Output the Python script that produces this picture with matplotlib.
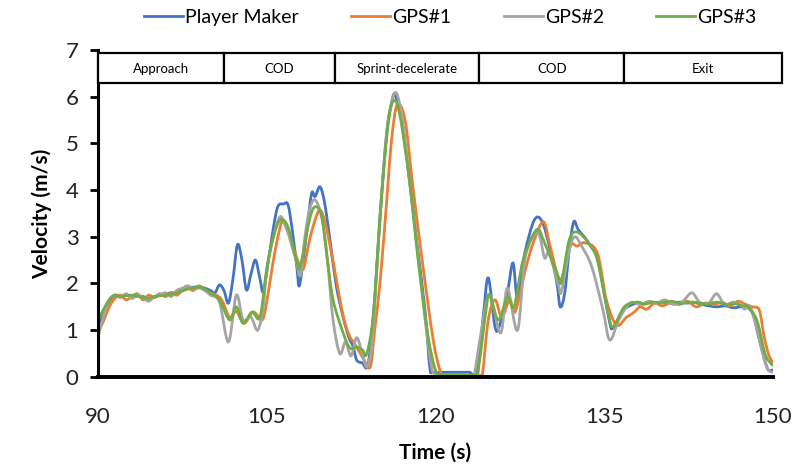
import matplotlib
matplotlib.use("Agg")
import matplotlib.pyplot as plt
import numpy as np
from matplotlib.patches import Rectangle, PathPatch
from matplotlib.path import Path
from matplotlib.lines import Line2D

plt.rcParams["font.family"] = ["Lato", "DejaVu Sans"]

# Player Maker (blue)
t_pm = [90, 90.5, 91, 91.5, 92, 92.5, 93, 93.5, 94, 94.5, 95, 95.5, 96, 96.5, 97, 97.5, 98, 98.5, 99, 99.5,
        100, 100.4, 100.8, 101.2, 101.6, 102.0, 102.4, 102.8, 103.2, 103.6, 104.0, 104.4, 104.7, 105.1, 105.6,
        106.0, 106.5, 106.9, 107.3, 107.7, 107.9, 108.3, 108.6, 109.0, 109.3, 109.7, 110.0, 110.3, 110.7, 111.2,
        111.8, 112.3, 112.7, 113.0, 113.5, 114.0, 114.5, 115.1, 115.7, 116.1, 116.4, 117.0, 117.7, 118.4, 119.1,
        119.5, 119.8, 121, 122, 123, 123.7, 124.25, 124.7, 125.3, 125.7, 126.4, 126.9, 127.3, 127.95, 128.8,
        129.5, 130.2, 130.8, 131.1, 131.5, 131.9, 132.3, 132.7, 133.3, 133.8, 134.4, 134.9, 135.5, 135.8, 136.7,
        137.9, 138.5, 139, 139.6, 140.3, 141, 141.7, 142.4, 143, 143.7, 144.4, 145, 145.8, 146.5, 147.2, 147.8,
        148.3, 148.8, 149.3, 149.6, 150]
v_pm = [1.1, 1.35, 1.62, 1.75, 1.72, 1.76, 1.7, 1.73, 1.72, 1.68, 1.7, 1.76, 1.78, 1.8, 1.8, 1.86, 1.9, 1.92, 1.93, 1.9,
        1.85, 1.8, 1.97, 1.85, 1.58, 2.1, 2.83, 2.5, 1.86, 2.2, 2.5, 2.1, 1.82, 2.4, 3.2,
        3.65, 3.7, 3.68, 3.1, 2.3, 1.95, 2.6, 3.2, 3.93, 3.86, 4.07, 3.9, 3.5, 2.8, 1.93,
        1.28, 0.85, 0.64, 0.36, 0.3, 0.26, 1.37, 3.5, 5.29, 5.85, 6.04, 5.5, 4.2, 2.78, 1.37,
        0.21, 0.1, 0.1, 0.1, 0.1, 0.1, 1.28, 2.12, 1.07, 1.1, 1.8, 2.44, 1.71, 2.65, 3.36,
        3.32, 2.72, 2.01, 1.5, 1.8, 2.72, 3.32, 3.15, 2.98, 2.8, 2.55, 1.93, 1.16, 1.05, 1.43,
        1.58, 1.56, 1.6, 1.58, 1.62, 1.57, 1.6, 1.58, 1.6, 1.55, 1.52, 1.5, 1.52, 1.48, 1.5, 1.48,
        1.3, 0.8, 0.35, 0.15, 0.15]

# GPS#1 (orange)
t_g1 = [90, 90.5, 91, 91.5, 92, 92.5, 93, 93.5, 94, 94.5, 95, 95.5, 96, 96.5, 97, 97.5, 98, 98.5, 99, 99.5,
        100, 100.5, 101, 101.7, 102.3, 103.0, 103.8, 104.6, 105.0, 105.5, 106.0, 106.4, 107.0, 107.6, 108.2,
        108.7, 109.1, 109.7, 110.2, 110.8, 111.8, 112.4, 112.8, 113.5, 114.2, 114.6, 115.1, 115.7, 116.1, 116.6,
        117.3, 118.0, 118.9, 119.8, 120.4, 120.8, 122, 123, 124.0, 124.2, 124.7, 125.3, 125.9, 126.6, 127.1,
        128.0, 128.7, 129.6, 130.2, 131.1, 132.0, 132.6, 133.3, 134.4, 135.2, 136.1, 137.0, 137.6, 138.2, 138.8,
        139.5, 140.2, 141, 141.7, 142.4, 143.2, 144, 144.8, 145.5, 146.2, 146.9, 147.6, 148.2, 148.8, 149.2,
        149.6, 150]
v_g1 = [0.95, 1.2, 1.5, 1.68, 1.75, 1.65, 1.72, 1.78, 1.65, 1.75, 1.7, 1.78, 1.72, 1.8, 1.75, 1.85, 1.9, 1.85, 1.95, 1.85,
        1.8, 1.75, 1.65, 1.28, 1.4, 1.15, 1.39, 1.22, 1.6, 2.36, 3.0, 3.32, 3.08, 2.6, 2.29,
        2.8, 3.2, 3.57, 3.3, 2.6, 1.3, 0.86, 0.72, 0.43, 0.21, 1.0, 2.08, 3.86, 5.07, 5.82,
        5.5, 4.07, 2.36, 0.8, 0.15, 0.03, 0.03, 0.03, 0.03, 0.08, 1.22, 1.65, 1.28, 1.65, 1.4,
        2.29, 2.87, 3.32, 2.8, 2.08, 2.8, 2.8, 2.87, 2.65, 1.65, 1.11, 1.28, 1.37, 1.5, 1.45,
        1.58, 1.52, 1.6, 1.55, 1.62, 1.5, 1.58, 1.55, 1.6, 1.52, 1.62, 1.55, 1.5, 1.43, 0.9,
        0.5, 0.3]

# GPS#2 (grey)
t_g2 = [90, 90.5, 91, 91.5, 92, 92.5, 93, 93.5, 94, 94.5, 95, 95.5, 96, 96.5, 97, 97.5, 98, 98.5, 99, 99.5,
        100, 100.8, 101.6, 102.3, 102.9, 103.6, 104.2, 104.7, 105.0, 105.6, 106.2, 106.7, 107.0, 107.6, 108.0,
        108.4, 108.8, 109.3, 109.9, 110.4, 110.9, 111.5, 112.0, 112.5, 113.0, 113.5, 113.9, 114.3, 114.6, 115.1,
        115.7, 116.4, 117.0, 117.7, 118.4, 119.1, 119.6, 120.0, 121.5, 123.3, 123.5, 124.1, 124.8, 125.8, 126.4,
        127.3, 128.0, 129.1, 129.7, 130.1, 130.9, 131.2, 131.9, 132.4, 133.0, 133.9, 134.9, 135.5, 136.3, 137.0,
        137.5, 138.2, 139, 139.7, 140.4, 141.2, 142, 142.8, 143.5, 144.3, 145, 145.7, 146.5, 147.2, 147.5, 148.0,
        148.6, 149.2, 149.6, 150]
v_g2 = [0.85, 1.3, 1.65, 1.75, 1.7, 1.78, 1.68, 1.75, 1.7, 1.62, 1.72, 1.75, 1.8, 1.72, 1.85, 1.9, 1.95, 1.88, 1.9, 1.85,
        1.75, 1.6, 0.75, 1.75, 1.22, 1.28, 1.0, 1.5, 2.3, 3.0, 3.43, 3.2, 3.0, 2.5, 2.18,
        3.0, 3.57, 3.79, 3.4, 2.5, 1.22, 0.5, 0.75, 0.45, 0.84, 0.5, 0.21, 0.6, 1.5, 3.5,
        5.3, 6.08, 5.6, 4.2, 2.7, 1.2, 0.3, 0.05, 0.03, 0.03, 0.1, 1.0, 1.76, 0.94, 1.9,
        1.0, 2.57, 3.08, 2.55, 2.65, 2.0, 1.82, 2.72, 3.0, 2.8, 2.36, 1.43, 0.79, 1.22, 1.5,
        1.6, 1.55, 1.62, 1.58, 1.65, 1.55, 1.62, 1.8, 1.6, 1.58, 1.78, 1.55, 1.6, 1.52, 1.45, 1.5,
        1.0, 0.4, 0.15, 0.1]

# GPS#3 (green)
t_g3 = [90, 90.5, 91, 91.5, 92, 93, 94, 94.5, 95, 96, 97, 98, 99, 99.5, 100, 100.8, 101.7, 102.3, 102.9, 103.7,
        104.4, 105.0, 105.6, 106.2, 106.9, 107.7, 108.0, 108.8, 109.3, 109.9, 110.4, 110.9, 111.8, 112.4, 113.0,
        113.5, 113.9, 114.5, 115.1, 115.7, 116.2, 116.8, 117.7, 118.4, 119.3, 120.0, 120.5, 122, 123.6, 123.9,
        124.5, 124.8, 125.6, 126.4, 127.0, 127.8, 129.0, 129.7, 130.8, 131.2, 131.9, 132.6, 133.6, 134.4, 135.3,
        135.8, 136.8, 137.9, 138.6, 139.4, 140.2, 141, 141.8, 142.6, 143.4, 144.2, 145, 145.8, 146.6, 147.3,
        147.8, 148.6, 149.3, 149.8, 150]
v_g3 = [1.2, 1.45, 1.65, 1.75, 1.72, 1.75, 1.7, 1.68, 1.72, 1.75, 1.8, 1.88, 1.92, 1.88, 1.8, 1.65, 1.22, 1.5, 1.15, 1.39,
        1.28, 2.3, 3.0, 3.36, 3.2, 2.44, 2.38, 3.36, 3.64, 3.43, 2.5, 1.65, 0.94, 0.62, 0.64,
        0.58, 0.5, 1.37, 3.5, 5.2, 5.89, 5.65, 4.2, 2.65, 0.94, 0.15, 0.05, 0.05, 0.05, 0.3,
        1.43, 1.76, 1.22, 1.71, 1.5, 2.5, 3.15, 2.87, 2.23, 2.03, 2.93, 3.1, 2.87, 2.5, 1.43,
        1.07, 1.5, 1.6, 1.56, 1.6, 1.58, 1.62, 1.57, 1.6, 1.58, 1.56, 1.6, 1.55, 1.57, 1.52,
        1.5, 1.2, 0.5, 0.3, 0.25]

phases = ["Approach", "COD", "Sprint-decelerate", "COD", "Exit"]
phase_edges = [90, 101.2, 111.1, 123.9, 136.8, 150.8]


def smooth_line(ax, x, y, color, lw):
    # excel-style smoothed line: catmull-rom segments drawn as cubic beziers
    x = np.asarray(x, float)
    y = np.asarray(y, float)
    px = np.concatenate([[x[0]], x, [x[-1]]])
    py = np.concatenate([[y[0]], y, [y[-1]]])
    verts = [(x[0], y[0])]
    codes = [Path.MOVETO]
    for i in range(1, len(x)):
        c1 = (px[i] + (px[i + 1] - px[i - 1]) / 6, py[i] + (py[i + 1] - py[i - 1]) / 6)
        c2 = (px[i + 1] - (px[i + 2] - px[i]) / 6, py[i + 1] - (py[i + 2] - py[i]) / 6)
        verts += [c1, c2, (x[i], y[i])]
        codes += [Path.CURVE4] * 3
    ax.add_patch(PathPatch(Path(verts, codes), facecolor="none", edgecolor=color, lw=lw,
                           joinstyle="round", capstyle="round"))


fig = plt.figure(figsize=(8, 4.7), dpi=100)
ax = fig.add_axes([0.1225, 0.198, 0.8435, 0.696])

series = [("Player Maker", t_pm, v_pm, "#4472C4"),
          ("GPS#1", t_g1, v_g1, "#ED7D31"),
          ("GPS#2", t_g2, v_g2, "#A5A5A5"),
          ("GPS#3", t_g3, v_g3, "#70AD47")]
handles = []
for name, tt, vv, col in series:
    smooth_line(ax, tt, vv, col, 2.0)
    handles.append(Line2D([], [], color=col, lw=2.0, label=name))

# phase boxes along the top
for i in range(len(phases)):
    x0 = phase_edges[i]
    w = phase_edges[i + 1] - x0
    ax.add_patch(Rectangle((x0, 6.28), w, 0.65, facecolor="white", edgecolor="black",
                           lw=1.6, clip_on=False, zorder=5))
    ax.text(x0 + w / 2, 6.6, phases[i], ha="center", va="center", fontsize=9.5, zorder=6)

ax.set_xlim(90, 150)
ax.set_ylim(0, 7)
ax.set_xticks([90, 105, 120, 135, 150])
ax.set_yticks(range(8))
ax.spines["top"].set_visible(False)
ax.spines["right"].set_visible(False)
ax.spines["left"].set_linewidth(2.2)
ax.spines["bottom"].set_linewidth(2.8)
ax.tick_params(axis="x", length=0, pad=22, labelsize=16, labelcolor="#222222")
ax.tick_params(axis="y", length=6, width=2, pad=8, labelsize=16, labelcolor="#222222")

ax.set_xlabel("Time (s)", fontsize=15, fontweight="bold", labelpad=11)
ax.set_ylabel("Velocity (m/s)", fontsize=15, fontweight="bold", labelpad=10)

fig.legend(handles=handles, loc="upper center", bbox_to_anchor=(0.563, 1.018), ncol=4, frameon=False,
           fontsize=14, handlelength=2.0, handletextpad=0.1, columnspacing=2.7)

fig.savefig("out.png", dpi=100)
